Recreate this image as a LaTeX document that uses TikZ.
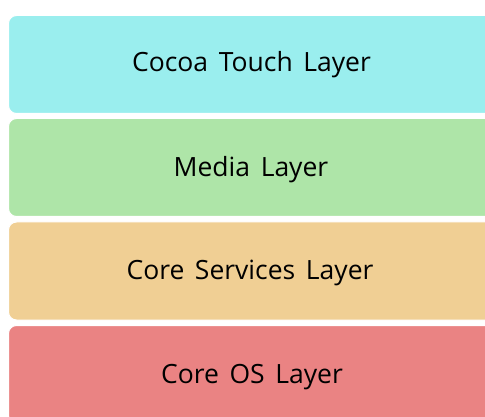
\documentclass[tikz,border=0pt]{standalone}
\usepackage{fontspec}
\setmainfont{Open Sans}
\definecolor{cocoa}{HTML}{9AEEEE}
\definecolor{media}{HTML}{AEE5A8}
\definecolor{coreserv}{HTML}{F0CF94}
\definecolor{coreos}{HTML}{EA8383}
\newcommand{\layerfont}{\fontsize{26.5}{30}\selectfont\spaceskip=0.4em plus 0.1em\relax}
\begin{document}
\begin{tikzpicture}[x=1pt,y=-1pt,
  layer/.style={draw=white, line width=1pt, rounded corners=8pt, minimum width=486pt, minimum height=98pt, anchor=north west, inner sep=0pt},
  layertext/.style={anchor=base, inner sep=0pt, text=black, font=\layerfont}]
\useasboundingbox (0,0) rectangle (485,417);
\fill[white] (0,0) rectangle (485,417);
\node[layer, fill=cocoa] (cocoa) at (8,15) {};
\node[layer, fill=media] (media) at (8,118) {};
\node[layer, fill=coreserv] (serv) at (8,221.5) {};
\node[layer, fill=coreos] (os) at (8,325) {};
\node[layertext] (t1) at (251.5,71.7) {Cocoa Touch Layer};
\node[layertext] (t2) at (251,176.7) {Media Layer};
\node[layertext] (t3) at (250,279.5) {Core Services Layer};
\node[layertext] (t4) at (252,383.3) {Core OS Layer};
\end{tikzpicture}
\end{document}
